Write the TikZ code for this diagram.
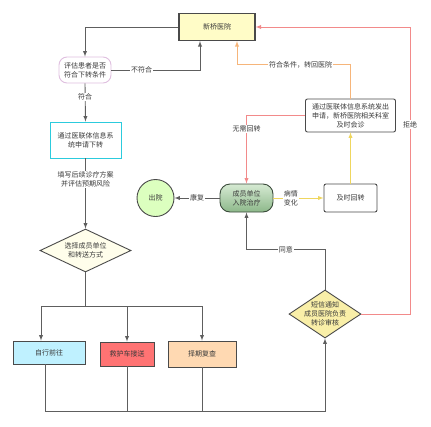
\documentclass[tikz,border=0pt]{standalone}
\usepackage{fontspec}
\setmainfont{Noto Sans CJK SC}
\usetikzlibrary{arrows,shapes,positioning}
\definecolor{txtgray}{HTML}{3A3A3A}
\definecolor{boxgray}{HTML}{4A4A4A}
\definecolor{linegray}{HTML}{5E5E5E}
\definecolor{redline}{HTML}{F28A8A}
\definecolor{orangeline}{HTML}{F6B57A}
\definecolor{yellowline}{HTML}{EFD65E}
\definecolor{wardtop}{HTML}{D6EAD3}
\definecolor{wardbottom}{HTML}{8DB88A}
\definecolor{wardborder}{HTML}{3A4A3A}
\definecolor{applyborder}{HTML}{2CCBDD}
\tikzset{
	basic/.style  = {draw=boxgray, line width=0.9pt, font=\fontsize{7}{9}\selectfont, text=txtgray, align=center, inner sep=1pt},
	hospital/.style = {basic, rectangle, fill=yellow!22, line width=1.1pt},
	judge/.style = {basic, rectangle, rounded corners=8pt, draw=violet!25, fill=white},
	apply/.style = {basic, rectangle, draw=applyborder, fill=white},
	choice/.style = {basic, diamond, aspect=1.5, inner xsep=-3pt, inner ysep=-2pt},
	way/.style = {basic, rectangle},
	ward/.style = {basic, rectangle, rounded corners=10pt, draw=wardborder, top color=wardtop, bottom color=wardbottom},
	plain box/.style = {basic, rectangle, rounded corners=2pt},
	leave/.style = {basic, circle, fill=green!40!lime!25},
	lbl/.style = {fill=white, font=\fontsize{7}{9}\selectfont, text=txtgray, inner sep=1pt, align=center}
}

\begin{document}
\begin{tikzpicture}[x=1pt, y=-1pt,
	line/.style={->, draw=linegray, line width=0.9pt},
	trunk/.style={draw=linegray, line width=0.9pt},
	red arrow/.style={->, draw=redline, line width=0.9pt},
	orange arrow/.style={->, draw=orangeline, line width=0.9pt},
	yellow arrow/.style={->, draw=yellowline, line width=0.9pt},
	>=latex]
	\useasboundingbox (0,0) rectangle (431,426);
	% nodes
	\node[hospital, minimum width=76, minimum height=27] (xq) at (217,27) {新桥医院};
	\node[judge, minimum width=52, minimum height=26] (pg) at (85,70) {评估患者是否\\符合下转条件};
	\node[apply, minimum width=71, minimum height=36] (sq) at (85.5,140) {通过医联体信息系\\统申请下转};
	\node[choice, fill=yellow!8!white, minimum width=91, minimum height=43] (d1) at (85.5,250.5) {选择成员单位\\和转送方式};
	\node[way, fill=blue!22!cyan!25, minimum width=72, minimum height=23] (zx) at (49,352.5) {自行前往};
	\node[way, fill=red!55!white, minimum width=54, minimum height=24] (jh) at (127,354) {救护车接送};
	\node[way, fill=orange!30, minimum width=68, minimum height=26] (zq) at (202,354) {择期复查};
	\node[choice, fill=yellow!30!white!90!brown, minimum width=72, minimum height=48] (d2) at (325,314) {短信通知\\成员医院负责\\转诊审核};
	\node[ward, minimum width=53, minimum height=28] (cy) at (246.5,198) {成员单位\\入院治疗};
	\node[plain box, fill=white, minimum width=53, minimum height=28] (js) at (350.5,198) {及时回转};
	\node[plain box, fill=white, minimum width=90, minimum height=33] (tg) at (350.5,115.5) {通过医联体信息系统发出\\申请，新桥医院相关科室\\及时会诊};
	\node[leave, minimum size=37] (cyuan) at (155.5,198) {出院};
	\coordinate (rj) at (410,27);
	\coordinate (bt) at (325,411);
	% connectors
	\draw[line] (xq.west) -| (pg.north);
	\draw[line] (pg.east) -| node[lbl, pos=0.17]{不符合} ([xshift=-17pt]xq.south);
	\draw[line] (pg.south) -- node[lbl, pos=0.35]{符合} (sq.north);
	\draw[line] (sq.south) -- node[lbl, pos=0.3]{填写后续诊疗方案\\并评估预期风险} (d1.north);
	\draw[trunk] (d1.south) -- ++(0,34) coordinate (br);
	\draw[line] (br) -| ([xshift=-8pt]zx.north);
	\draw[line] (br) -| (jh.north);
	\draw[line] (br) -| (zq.north);
	\draw[line] ([xshift=-4pt]zx.south) |- (bt) -- (d2.south);
	\draw[trunk] (jh.south) -- (jh.south |- bt);
	\draw[trunk] (zq.south) -- (zq.south |- bt);
	\draw[red arrow] (d2.east) -| node[lbl, pos=0.83]{拒绝} (rj) -- (xq.east);
	\draw[line] (d2.north) -- ++(0,-40) -| node[lbl, pos=0.25]{同意} (cy.south);
	\draw[orange arrow] (tg.north) -- ++(0,-34) -| node[lbl, pos=0.22]{符合条件，转回医院} ([xshift=20pt]xq.south);
	\draw[red arrow] (tg.west) -| node[lbl, pos=0.6]{无需回转} (cy.north);
	\draw[yellow arrow] (cy.east) -- node[lbl, pos=0.35]{病情\\变化} (js.west);
	\draw[yellow arrow] (js.north) -- (tg.south);
	\draw[line] (cy.west) -- node[lbl]{康复} (cyuan.east);
\end{tikzpicture}
\end{document}
